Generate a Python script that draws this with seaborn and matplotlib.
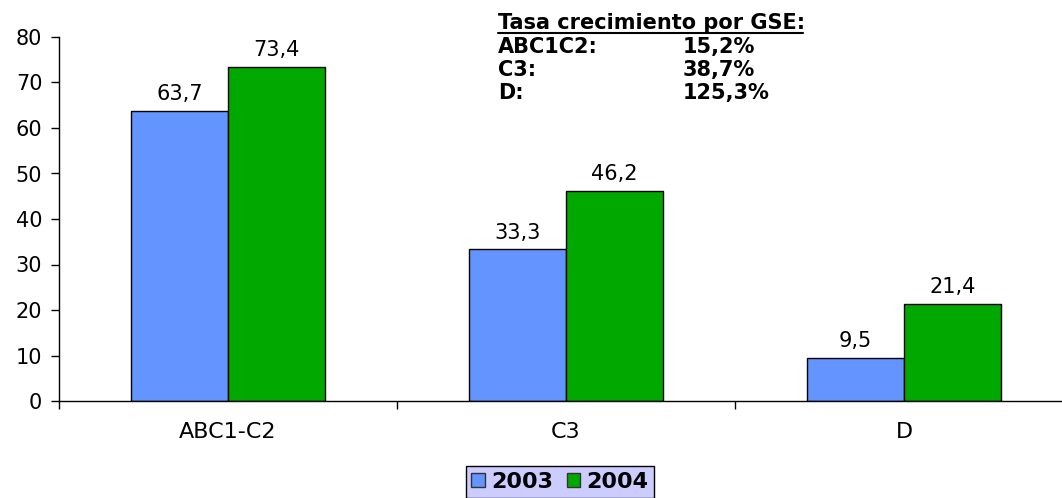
import pandas as pd
import matplotlib.pyplot as plt
import seaborn as sns
from matplotlib.lines import Line2D

# datos
categorias = ['ABC1-C2', 'C3', 'D']
anios = ['2003', '2004']
valores_2003 = [63.7, 33.3, 9.5]
valores_2004 = [73.4, 46.2, 21.4]
tasa_gse = ['ABC1C2:', 'C3:', 'D:']
tasa_valor = ['15,2%', '38,7%', '125,3%']

colores = {'2003': '#6394FF', '2004': '#00A800'}


def main():
    sns.set_theme(style='white')
    plt.rcParams['font.family'] = ['DejaVu Sans']
    plt.rcParams['text.color'] = 'black'

    df = pd.DataFrame({
        'gse': categorias * 2,
        'anio': [anios[0]] * 3 + [anios[1]] * 3,
        'valor': valores_2003 + valores_2004,
    })

    fig = plt.figure(figsize=(10.62, 4.98), dpi=100)
    ax = fig.add_axes([59 / 1062, 97 / 498, 1014 / 1062, 364 / 498])

    sns.barplot(data=df, x='gse', y='valor', hue='anio', order=categorias,
                hue_order=anios, palette=colores, width=0.572,
                edgecolor='black', linewidth=1, saturation=1, ax=ax)

    for container in ax.containers:
        ax.bar_label(container, labels=[f'{v:.1f}'.replace('.', ',') for v in container.datavalues],
                     padding=5, fontsize=15, color='black')

    ax.set_xlim(-0.5, 2.5)
    ax.set_ylim(0, 80)
    ax.set_yticks(range(0, 81, 10))
    ax.set_xlabel('')
    ax.set_ylabel('')
    sns.despine(ax=ax, top=True, right=True)
    for s in ['left', 'bottom']:
        ax.spines[s].set_color('black')
        ax.spines[s].set_linewidth(1)

    ax.set_xticks([-0.5, 0.5, 1.5, 2.5], minor=True)
    ax.tick_params(axis='x', which='major', length=0, pad=15, labelsize=16, colors='black')
    ax.tick_params(axis='x', which='minor', length=6, width=1, direction='out', color='black')
    ax.tick_params(axis='y', length=6, width=1, direction='out', labelsize=15, colors='black', pad=6)
    ax.tick_params(axis='both', bottom=True, left=True, which='both')

    # leyenda
    leg = ax.legend(loc='center', bbox_to_anchor=(560 / 1062, 1 - 482 / 498),
                    bbox_transform=fig.transFigure, ncol=2, frameon=True,
                    prop={'weight': 'bold', 'size': 16}, handlelength=0.6, handleheight=0.6,
                    handletextpad=0.3, columnspacing=0.6, borderpad=0.25, fancybox=False)
    leg.get_frame().set_facecolor('#CCCCFF')
    leg.get_frame().set_edgecolor('black')
    leg.get_frame().set_linewidth(1)
    leg.get_frame().set_alpha(1)
    for h in leg.legend_handles:
        h.set_edgecolor('#333333')

    # recuadro de tasas
    fig.text(498 / 1062, 1 - 23 / 498, 'Tasa crecimiento por GSE:', fontsize=15,
             fontweight='bold', va='center', ha='left')
    fig.add_artist(Line2D([498 / 1062, 803 / 1062], [1 - 33 / 498, 1 - 33 / 498],
                          color='black', linewidth=1.5, transform=fig.transFigure))
    for i, (g, t) in enumerate(zip(tasa_gse, tasa_valor)):
        y = 1 - (47 + 23 * i) / 498
        fig.text(498 / 1062, y, g, fontsize=15, fontweight='bold', va='center', ha='left')
        fig.text(683 / 1062, y, t, fontsize=15, fontweight='bold', va='center', ha='left')

    fig.savefig('out.png', dpi=100)
    plt.close(fig)


if __name__ == '__main__':
    main()
